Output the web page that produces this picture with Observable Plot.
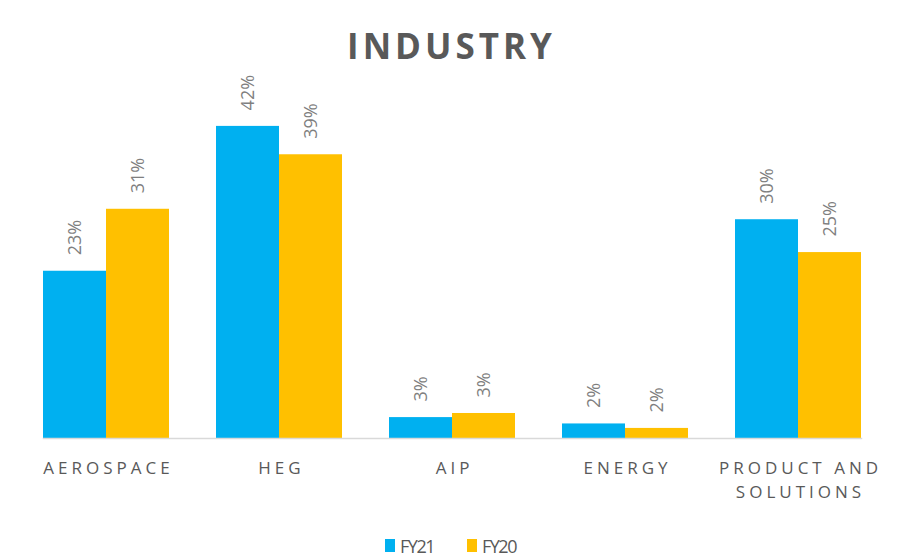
<!DOCTYPE html>
<html>
<head>
<meta charset="utf-8">
<script src="https://cdn.jsdelivr.net/npm/d3@7"></script>
<script src="https://cdn.jsdelivr.net/npm/@observablehq/plot@0.6"></script>
<style>
  html, body { margin: 0; padding: 0; background: #ffffff; }
  body { width: 917px; height: 557px; overflow: hidden; font-family: "Open Sans", sans-serif; }
  #title {
    height: 60px; box-sizing: border-box; padding-top: 22px; padding-right: 14px;
    text-align: center; font-size: 35px; font-weight: 700; color: #595959;
    letter-spacing: 4px; line-height: normal;
  }
  #chart svg { display: block; overflow: visible; }
  .cat-axis text { letter-spacing: 4px; }
  #legend { margin-top: 26px; display: flex; justify-content: center; padding-right: 16px; }
  #legend .leg > div { justify-content: center; }
  #legend span { margin-right: 33px !important; }
  #legend span:last-child { margin-right: 0 !important; }
  #legend svg { margin-right: 5px !important; }
</style>
</head>
<body>
<div id="title">INDUSTRY</div>
<div id="chart"></div>
<div id="legend"></div>
<script>
const categories = ["AEROSPACE", "HEG", "AIP", "ENERGY", "PRODUCT AND SOLUTIONS"];
const categoryLabels = ["AEROSPACE", "HEG", "AIP", "ENERGY", "PRODUCT AND\nSOLUTIONS"];
const series = ["FY21", "FY20"];
const fy21 = [22.4, 41.8, 2.8, 1.95, 29.3];
const fy20 = [30.7, 38.0, 3.35, 1.35, 24.9];
const fy21Labels = ["23%", "42%", "3%", "2%", "30%"];
const fy20Labels = ["31%", "39%", "3%", "2%", "25%"];
const colors = ["#00B0F0", "#FFC000"];

const data = [];
categories.forEach((c, i) => {
  data.push({category: c, series: "FY21", value: fy21[i], label: fy21Labels[i]});
  data.push({category: c, series: "FY20", value: fy20[i], label: fy20Labels[i]});
});
const labelOf = new Map(categories.map((c, i) => [c, categoryLabels[i]]));

const chart = Plot.plot({
  width: 917,
  height: 443,
  marginTop: 42,
  marginBottom: 65,
  marginLeft: 18,
  marginRight: 31,
  style: {fontFamily: "'Open Sans', sans-serif", background: "white", overflow: "visible"},
  fx: {domain: categories, paddingInner: 0.27, paddingOuter: 0.135, label: null, axis: null},
  x: {domain: series, padding: 0, axis: null},
  y: {domain: [0, 45], axis: null},
  color: {domain: series, range: colors},
  marks: [
    Plot.barY(data, {fx: "category", x: "series", y: "value", fill: "series"}),
    Plot.frame({anchor: "bottom", stroke: "#d9d9d9", strokeWidth: 1.5, facet: "super"}),
    Plot.text(data, {
      fx: "category", x: "series", y: "value", text: "label",
      rotate: -90, textAnchor: "start", dy: -16,
      fill: "#7f7f7f", fontSize: 18
    }),
    Plot.axisFx({
      anchor: "bottom", tickSize: 0, tickPadding: 19, label: null,
      tickFormat: d => labelOf.get(d), fontSize: 17, fill: "#595959",
      lineHeight: 1.38, dx: 2, className: "cat-axis"
    })
  ]
});
document.getElementById("chart").appendChild(chart);

const leg = chart.legend("color", {
  swatchWidth: 10, swatchHeight: 13, className: "leg",
  style: {fontSize: "18px", fontFamily: "'Open Sans', sans-serif", color: "#595959", letterSpacing: "-1.5px"}
});
document.getElementById("legend").appendChild(leg);
</script>
</body>
</html>
